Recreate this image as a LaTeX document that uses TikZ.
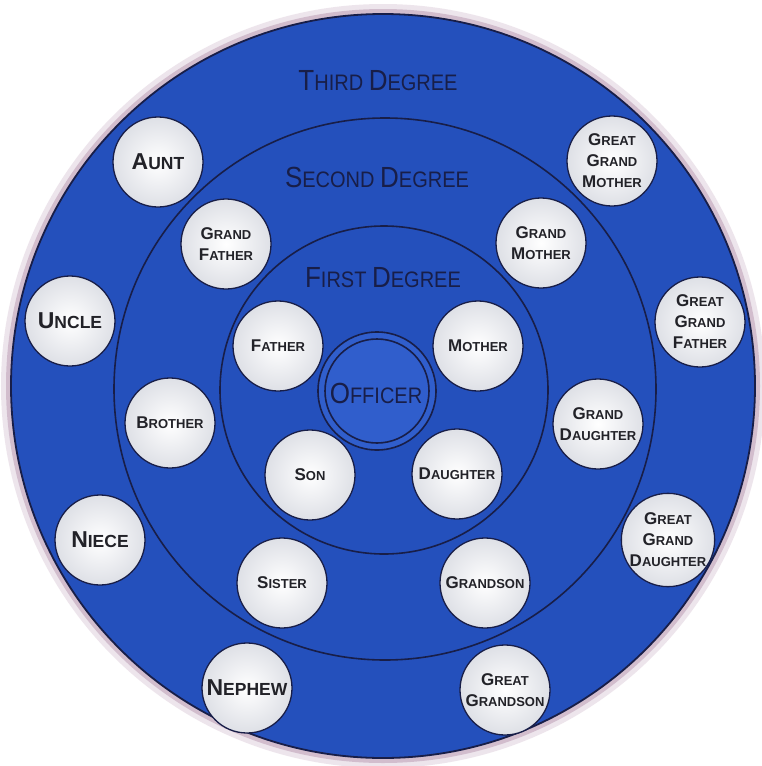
\documentclass[tikz,border=0pt]{standalone}
\usepackage{fontspec}
\setmainfont{Liberation Sans}
\usetikzlibrary{shadings}
\definecolor{ringblue}{RGB}{36,80,188}
\definecolor{offblue}{RGB}{48,94,204}
\definecolor{navy}{RGB}{24,30,72}
\definecolor{halo}{RGB}{160,115,150}
\definecolor{labtxt}{RGB}{34,34,40}
\definecolor{pearl}{RGB}{222,224,230}
\newcommand\Lb[2]{{\fontsize{17}{21}\selectfont #1}{\fontsize{13}{21}\selectfont #2}}
\newcommand\Lbig[2]{{\fontsize{23}{23}\selectfont #1}{\fontsize{17.5}{23}\selectfont #2}}
\newcommand\Hd[2]{{\fontsize{26}{26}\selectfont #1}{\fontsize{20}{26}\selectfont #2}}
\tikzset{
  x=1pt,y=-1pt,
  ring/.style={draw=navy,line width=1.6pt},
  person/.style={circle,minimum size=90pt,inner sep=0pt,draw=navy,line width=1.3pt,
    inner color=white,outer color=pearl,text=labtxt,font=\bfseries\fontsize{13}{21}\selectfont,align=center},
  heading/.style={text=navy,font=\fontsize{20}{26}\selectfont,inner sep=0pt,yscale=1.12}
}
\begin{document}
\begin{tikzpicture}
\useasboundingbox (0,0) rectangle (761,766);
\fill[white] (0,0) rectangle (761,766);
% outer disc with fuzzy halo
\draw[halo,opacity=0.18,line width=12pt] (383,386) circle (376);
\draw[halo,opacity=0.35,line width=6pt] (383,386) circle (374);
\fill[ringblue] (383,386) circle (372);
\draw[navy,line width=1.8pt] (383,386) circle (372);
% rings
\draw[ring] (385,389) circle (271);
\draw[ring] (384,390) circle (164);
% officer
\fill[offblue] (377,391) circle (59);
\draw[ring] (377,391) circle (59);
\draw[ring] (377,391) circle (52);
\node[heading] (officer) at (376,393) {\Hd{O}{FFICER}};
% headings
\node[heading] (third) at (378,81) {\Hd{T}{HIRD} \Hd{D}{EGREE}};
\node[heading] (second) at (377,177) {\Hd{S}{ECOND} \Hd{D}{EGREE}};
\node[heading] (first) at (383,278) {\Hd{F}{IRST} \Hd{D}{EGREE}};
% first degree
\node[person] (father) at (278,346) {\Lb{F}{ATHER}};
\node[person] (mother) at (478,346) {\Lb{M}{OTHER}};
\node[person] (son) at (310,475) {\Lb{S}{ON}};
\node[person] (daughter) at (457,474) {\Lb{D}{AUGHTER}};
% second degree
\node[person] (gfather) at (226,244) {\Lb{G}{RAND}\\\Lb{F}{ATHER}};
\node[person] (gmother) at (541,243) {\Lb{G}{RAND}\\\Lb{M}{OTHER}};
\node[person] (brother) at (170,423) {\Lb{B}{ROTHER}};
\node[person] (gdaughter) at (598,424) {\Lb{G}{RAND}\\\Lb{D}{AUGHTER}};
\node[person] (sister) at (282,583) {\Lb{S}{ISTER}};
\node[person] (grandson) at (485,583) {\Lb{G}{RANDSON}};
% third degree
\node[person] (aunt) at (158,162) {\Lbig{A}{UNT}};
\node[person] (uncle) at (70,321) {\Lbig{U}{NCLE}};
\node[person] (niece) at (100,540) {\Lbig{N}{IECE}};
\node[person] (nephew) at (247,688) {\Lbig{N}{EPHEW}};
\node[person] (ggmother) at (612,161) {\Lb{G}{REAT}\\\Lb{G}{RAND}\\\Lb{M}{OTHER}};
\node[person] (ggfather) at (700,322) {\Lb{G}{REAT}\\\Lb{G}{RAND}\\\Lb{F}{ATHER}};
\node[person] (ggdaughter) at (668,540) {\Lb{G}{REAT}\\\Lb{G}{RAND}\\\Lb{D}{AUGHTER}};
\node[person] (ggson) at (505,690) {\Lb{G}{REAT}\\\Lb{G}{RANDSON}};
\end{tikzpicture}
\end{document}
